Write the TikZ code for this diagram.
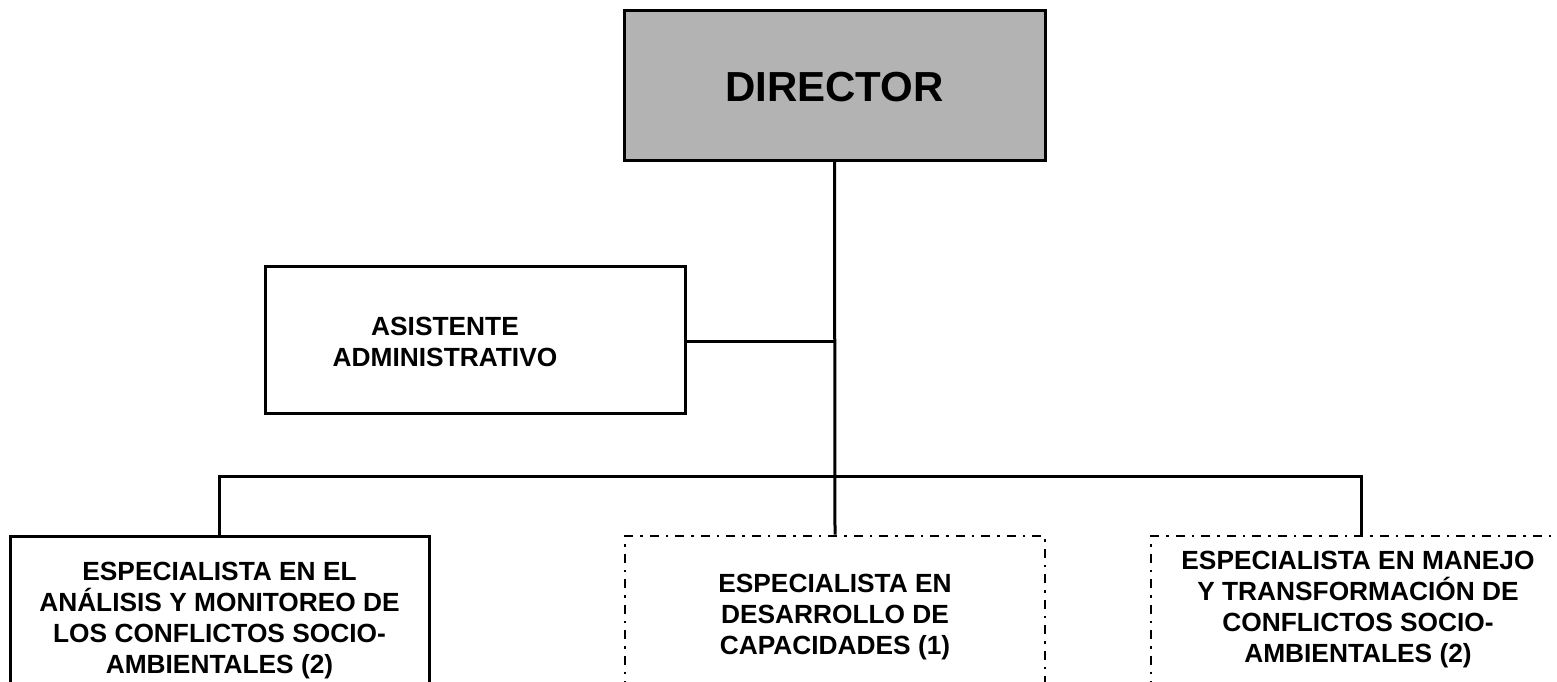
\documentclass[tikz,border=0pt]{standalone}
\usepackage{fontspec}
\setmainfont{Liberation Sans}
\definecolor{dirgray}{HTML}{B3B3B3}
\begin{document}
\begin{tikzpicture}[x=1pt,y=-1pt,
  box/.style={draw=black,line width=3pt,rectangle,inner sep=0pt},
  dbox/.style={draw=black,line width=2.6pt,rectangle,inner sep=0pt,dash pattern=on 9pt off 7pt on 2.5pt off 7pt},
  lbl/.style={font=\bfseries\fontsize{26.3}{31}\selectfont,align=center,inner sep=0pt},
  conn/.style={line width=3pt}]
\useasboundingbox (0,0) rectangle (1557,682);
\clip (0,0) rectangle (1557,682);
% boxes
\node[box,fill=dirgray,minimum width=421pt,minimum height=149pt] (dir) at (834.5,85.5) {};
\node[font=\bfseries\fontsize{42}{48}\selectfont,inner sep=0pt] (dirtxt) at (834.5,87) {DIRECTOR};
\node[box,minimum width=420pt,minimum height=147pt] (asis) at (475,339.5) {};
\node[lbl] (asistxt) at (445,341.5) {ASISTENTE\\ADMINISTRATIVO};
\node[box,minimum width=419pt,minimum height=188pt] (left) at (219.5,630) {};
\node[dbox,minimum width=420pt,minimum height=188pt] (mid) at (835,630) {};
\node[dbox,minimum width=420pt,minimum height=188pt] (right) at (1361,630) {};
\node[lbl] (lefttxt) at (219.5,621) {ESPECIALISTA EN EL\\AN\'ALISIS Y MONITOREO DE\\LOS CONFLICTOS SOCIO-\\AMBIENTALES (2)};
\node[lbl] (midtxt) at (835,617) {ESPECIALISTA EN\\DESARROLLO DE\\CAPACIDADES (1)};
\node[lbl] (righttxt) at (1358,610) {ESPECIALISTA EN MANEJO\\Y TRANSFORMACI\'ON DE\\CONFLICTOS SOCIO-\\AMBIENTALES (2)};
% connectors
\coordinate (j1) at (835,341);
\coordinate (bl) at (219.5,476);
\coordinate (br) at (1361,476);
\draw[conn] (dir.south) -- (mid.north);
\draw[conn] (asis.east |- j1) -- (j1);
\draw[conn] (left.north) -- (bl) -- (br) -- (right.north);
\end{tikzpicture}
\end{document}
